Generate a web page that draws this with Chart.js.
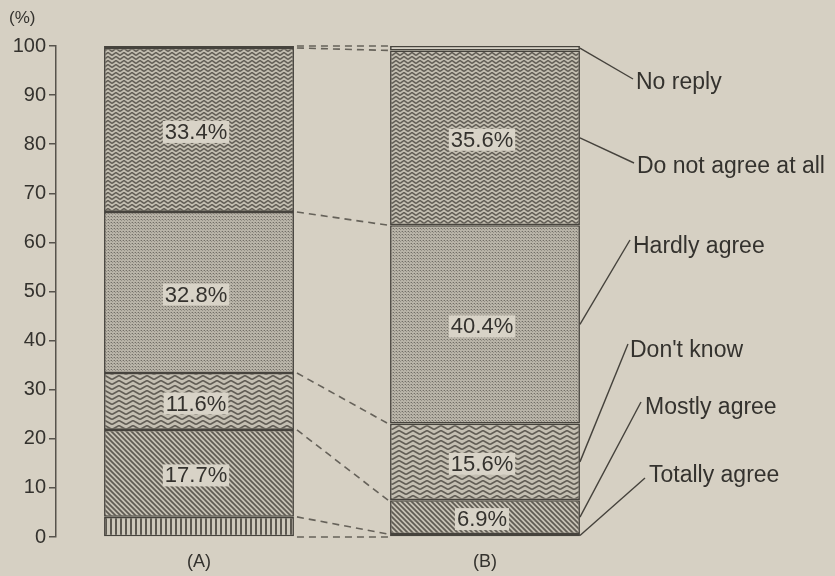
<!DOCTYPE html>
<html>
<head>
<meta charset="utf-8">
<script src="https://cdn.jsdelivr.net/npm/chart.js@4"></script>
<style>
  html, body { margin: 0; padding: 0; background: #d6d0c3; }
  #wrap { width: 835px; height: 576px; }
</style>
</head>
<body>
<div id="wrap"><canvas id="chart" width="835" height="576"></canvas></div>
<script>
// ===== Data =====
let groups = ["(A)", "(B)"];
let responses = ["Totally agree", "Mostly agree", "Don't know", "Hardly agree", "Do not agree at all", "No reply"];
let groupA = [4.1, 17.7, 11.6, 32.8, 33.4, 0.4];
let groupB = [0.6, 6.9, 15.6, 40.4, 35.6, 0.9];
let showValue = [false, true, true, true, true, false];
let unitLabel = "(%)";

// callout text spots on the right side (left x, middle y) and where the leader ends
let callouts = [
  { text: [649, 476], end: [645, 478] },
  { text: [645, 408], end: [641, 402] },
  { text: [630, 351], end: [628, 344] },
  { text: [633, 247], end: [630, 240] },
  { text: [637, 167], end: [634, 163] },
  { text: [636, 83], end: [633, 79] }
];

let FONT = "'Liberation Sans', Arial, Helvetica, sans-serif";
let INK = "#34322e";
let LINE = "#57534c";

// ===== Fill patterns =====
function tile(w, h, draw) {
  let c = document.createElement("canvas");
  c.width = w;
  c.height = h;
  let g = c.getContext("2d");
  draw(g, w, h);
  return g.createPattern(c, "repeat");
}

let fills = [
  // vertical stripes
  tile(5, 4, (g, w, h) => {
    g.fillStyle = "#cdc8bb"; g.fillRect(0, 0, w, h);
    g.fillStyle = "#5c5850"; g.fillRect(0, 0, 2, h);
  }),
  // diagonal hatching
  tile(5, 5, (g, w, h) => {
    g.fillStyle = "#c6c1b4"; g.fillRect(0, 0, w, h);
    g.strokeStyle = "#5f5b53"; g.lineWidth = 1.7;
    g.beginPath();
    g.moveTo(-1, -1); g.lineTo(w + 1, h + 1);
    g.moveTo(-1, h - 1); g.lineTo(1, h + 1);
    g.moveTo(w - 1, -1); g.lineTo(w + 1, 1);
    g.stroke();
  }),
  // large zigzag
  tile(14, 5, (g, w, h) => {
    g.fillStyle = "#c4bfb2"; g.fillRect(0, 0, w, h);
    g.strokeStyle = "#615d55"; g.lineWidth = 1.6;
    g.beginPath();
    g.moveTo(0, 4.5); g.lineTo(7, 0.5); g.lineTo(14, 4.5);
    g.stroke();
  }),
  // fine dots
  tile(3, 3, (g, w, h) => {
    g.fillStyle = "#b9b4a8"; g.fillRect(0, 0, w, h);
    g.fillStyle = "#726e66"; g.fillRect(0, 0, 1, 1);
    g.fillStyle = "#938f86"; g.fillRect(1, 1, 1, 1);
    g.fillStyle = "#a29e94"; g.fillRect(2, 0, 1, 1);
  }),
  // small zigzag
  tile(8, 4, (g, w, h) => {
    g.fillStyle = "#c2bdb0"; g.fillRect(0, 0, w, h);
    g.strokeStyle = "#605c54"; g.lineWidth = 1.5;
    g.beginPath();
    g.moveTo(0, 3.5); g.lineTo(4, 0.5); g.lineTo(8, 3.5);
    g.stroke();
  }),
  // plain
  "#e2ddd2"
];

// ===== Helpers =====
function boundaries(values) {
  let out = [0];
  values.forEach(v => out.push(out[out.length - 1] + v));
  return out;
}

// ===== Plugins =====
let paperPlugin = {
  id: "paper",
  beforeDraw(chart) {
    let ctx = chart.ctx;
    ctx.save();
    ctx.fillStyle = "#d6d0c3";
    ctx.fillRect(0, 0, chart.width, chart.height);
    ctx.fillStyle = INK;
    ctx.font = "17px " + FONT;
    ctx.textBaseline = "middle";
    ctx.fillText(unitLabel, 9, 18);
    ctx.restore();
  }
};

let annotatePlugin = {
  id: "annotate",
  afterDatasetsDraw(chart) {
    let ctx = chart.ctx;
    let y = chart.scales.y;
    let series = [groupA, groupB];
    let barA = chart.getDatasetMeta(0).data[0];
    let barB = chart.getDatasetMeta(0).data[1];
    let aRight = barA.x + barA.width / 2;
    let bLeft = barB.x - barB.width / 2;
    let bRight = barB.x + barB.width / 2;

    ctx.save();

    // dashed links between matching boundaries
    let cutsA = boundaries(groupA);
    let cutsB = boundaries(groupB);
    ctx.strokeStyle = "#66625a";
    ctx.lineWidth = 1.6;
    ctx.setLineDash([7, 5]);
    for (let i = 0; i < cutsA.length; i++) {
      ctx.beginPath();
      ctx.moveTo(aRight + 3, y.getPixelForValue(cutsA[i]));
      ctx.lineTo(bLeft - 2, y.getPixelForValue(cutsB[i]));
      ctx.stroke();
    }
    ctx.setLineDash([]);

    // value boxes
    ctx.font = "22px " + FONT;
    ctx.textAlign = "center";
    ctx.textBaseline = "middle";
    series.forEach((vals, j) => {
      let cuts = boundaries(vals);
      vals.forEach((v, i) => {
        if (!showValue[i]) return;
        let bar = chart.getDatasetMeta(i).data[j];
        let mid = y.getPixelForValue((cuts[i] + cuts[i + 1]) / 2) + 2;
        let txt = v.toFixed(1) + "%";
        let w = ctx.measureText(txt).width;
        ctx.fillStyle = "#d8d3c7";
        ctx.fillRect(bar.x - 3 - w / 2 - 2, mid - 11, w + 4, 22);
        ctx.fillStyle = INK;
        ctx.fillText(txt, bar.x - 3, mid + 1);
      });
    });

    // leaders from bar (B) to the response names
    let cuts = boundaries(groupB);
    ctx.strokeStyle = "#45423c";
    ctx.lineWidth = 1.4;
    ctx.font = "23px " + FONT;
    ctx.textAlign = "left";
    responses.forEach((name, i) => {
      let c = callouts[i];
      let yMid = y.getPixelForValue((cuts[i] + cuts[i + 1]) / 2);
      ctx.beginPath();
      ctx.moveTo(bRight, yMid);
      ctx.lineTo(c.end[0], c.end[1]);
      ctx.stroke();
      ctx.fillStyle = INK;
      ctx.fillText(name, c.text[0], c.text[1]);
    });

    ctx.restore();
  }
};

// ===== Chart =====
let datasets = responses.map((name, i) => ({
  label: name,
  data: [groupA[i], groupB[i]],
  backgroundColor: fills[i],
  borderColor: "#46433d",
  borderWidth: 1.6,
  borderSkipped: false,
  barPercentage: 0.664,
  categoryPercentage: 1
}));

new Chart(document.getElementById("chart"), {
  type: "bar",
  data: { labels: groups, datasets },
  options: {
    responsive: false,
    animation: false,
    layout: { padding: { top: 46, right: 207, bottom: 0, left: 0 } },
    plugins: { legend: { display: false }, tooltip: { enabled: false } },
    scales: {
      x: {
        stacked: true,
        grid: { display: false, drawTicks: false },
        border: { display: false },
        ticks: { color: INK, font: { family: FONT, size: 18 }, padding: 14 },
        afterFit(scale) { scale.height = 39; }
      },
      y: {
        stacked: true,
        min: 0,
        max: 100,
        ticks: { stepSize: 10, color: INK, font: { family: FONT, size: 20 }, padding: 3 },
        grid: { drawOnChartArea: false, drawTicks: true, tickLength: 7, color: LINE, lineWidth: 1.5 },
        border: { display: true, color: LINE, width: 1.5 },
        afterFit(scale) { scale.width = 56; }
      }
    }
  },
  plugins: [paperPlugin, annotatePlugin]
});
</script>
</body>
</html>
